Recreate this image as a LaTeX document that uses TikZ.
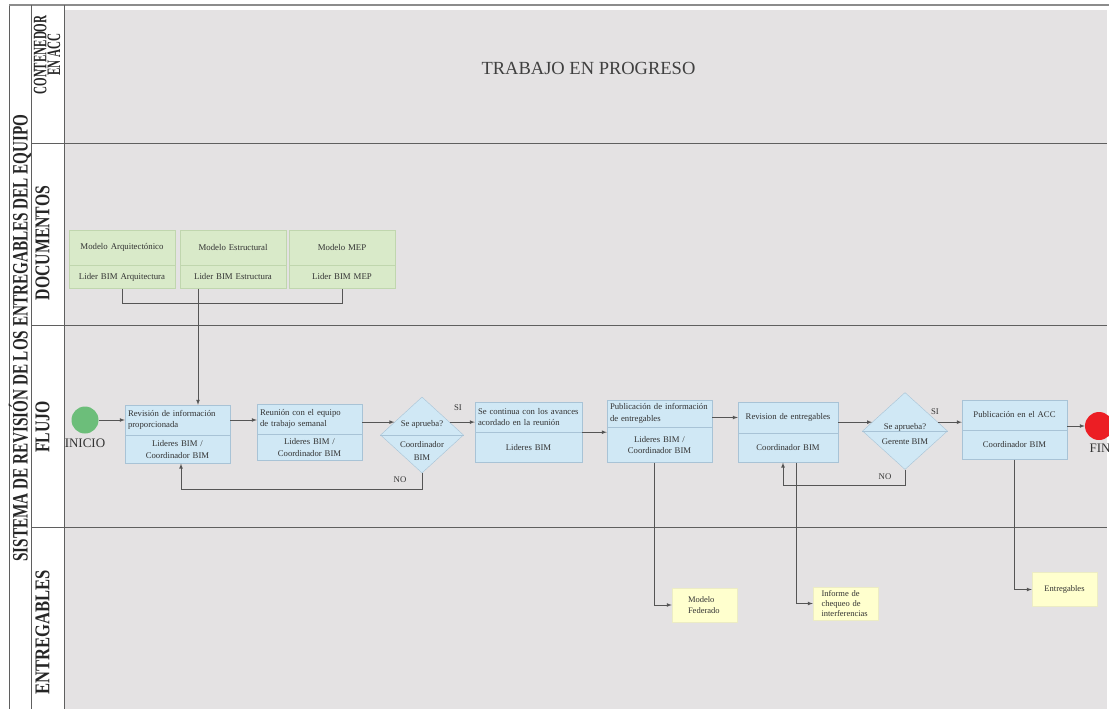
\documentclass[tikz,border=0pt]{standalone}
\usepackage{fontspec}
\setmainfont{Liberation Serif}
\usepackage{graphicx}
\usepackage{tikz}
\usepackage{xcolor}
\usetikzlibrary{shapes,arrows,positioning}

\definecolor{lanegray}{RGB}{228,226,227}
\definecolor{framegray}{RGB}{95,95,95}
\definecolor{taskblue}{RGB}{208,232,245}
\definecolor{taskedge}{RGB}{168,195,214}
\definecolor{docgreen}{RGB}{217,234,201}
\definecolor{docedge}{RGB}{192,214,174}
\definecolor{outyellow}{RGB}{255,255,206}
\definecolor{outedge}{RGB}{236,236,196}
\definecolor{startgreen}{RGB}{108,190,122}
\definecolor{endred}{RGB}{236,30,36}
\definecolor{wire}{RGB}{85,85,85}

\newcommand{\boxfont}{\fontsize{8.7}{11.5}\selectfont}

\begin{document}
\begin{tikzpicture}[x=1pt,y=-1pt]
\tikzstyle{tasktop} = [rectangle, draw=taskedge, fill=taskblue, minimum width=105pt, minimum height=30pt, text width=99pt, inner sep=3pt, align=left, font=\boxfont, text=black!80]
\tikzstyle{taskbot} = [tasktop, align=center, minimum height=28pt]
\tikzstyle{doctop} = [rectangle, draw=docedge, fill=docgreen, minimum width=106pt, minimum height=35pt, text width=100pt, inner sep=3pt, align=center, font=\fontsize{8.8}{10}\selectfont, text=black!80]
\tikzstyle{docbot} = [doctop, minimum height=23pt]
\tikzstyle{decision} = [diamond, draw=taskedge, fill=taskblue, inner sep=0pt, minimum width=83pt, minimum height=76pt]
\tikzstyle{outbox} = [rectangle, draw=outedge, fill=outyellow, minimum width=65pt, minimum height=34pt, inner sep=0pt, align=left, font=\fontsize{8.5}{10.3}\selectfont, text=black!80]
\tikzstyle{tag} = [font=\fontsize{8.7}{12.5}\selectfont, text=black!80, inner sep=1pt]
\tikzstyle{lanename} = [rotate=90, font=\bfseries\fontsize{21}{21}\selectfont, text=black!85]
\tikzstyle{link} = [draw=wire, line width=0.7pt, -latex]

\useasboundingbox (0,0) rectangle (1109,709);

% swimlane frame
\fill[lanegray] (64,10) rectangle (1107,709);
\draw[framegray, line width=0.6pt] (9,709) -- (9,5);
\draw[black!45, line width=1.2pt] (9,5) -- (1109,5);
\draw[framegray, line width=0.6pt] (31,5) -- (31,709);
\draw[framegray, line width=0.6pt] (64,5) -- (64,709);
\foreach \y in {143,325,527}
  \draw[framegray, line width=0.6pt] (31,\y) -- (1107,\y);

\node[rotate=90, font=\bfseries\fontsize{22}{22}\selectfont, text=black!85] (sistema) at (20,338)
  {\scalebox{0.69}[1]{SISTEMA DE REVISIÓN DE LOS ENTREGABLES DEL EQUIPO}};
\node[rotate=90, align=center, font=\bfseries\fontsize{19}{12}\selectfont, text=black!85] (acc) at (47,55)
  {\scalebox{0.58}[1]{CONTENEDOR}\\\scalebox{0.58}[1]{EN ACC}};
\node[lanename] (docs) at (42.5,243) {\scalebox{0.75}[1]{DOCUMENTOS}};
\node[lanename] (flujo) at (42.5,427) {\scalebox{0.75}[1]{FLUJO}};
\node[lanename] (entreg) at (42.5,632) {\scalebox{0.79}[1]{ENTREGABLES}};

\node[font=\fontsize{18.5}{18.5}\selectfont, text=black!75] (progreso) at (588.5,68) {TRABAJO EN PROGRESO};

% documentos
\node[doctop] (arqT) at (122,247.5) {Modelo Arquitectónico};
\node[docbot, below=0pt of arqT] (arqB) {Lider BIM Arquitectura};
\node[doctop] (estT) at (233,247.5) {Modelo Estructural};
\node[docbot, below=0pt of estT] (estB) {Lider BIM Estructura};
\node[doctop] (mepT) at (342,247.5) {Modelo MEP};
\node[docbot, below=0pt of mepT] (mepB) {Lider BIM MEP};

% flujo
\node[circle, fill=startgreen, minimum size=27pt, inner sep=0pt] (inicio) at (85,420) {};
\node[font=\fontsize{13}{13}\selectfont, text=black!80] (inicioL) at (85,443) {INICIO};

\node[tasktop] (revT) at (177.5,420) {Revisión de información\\proporcionada};
\node[taskbot, below=0pt of revT] (revB) {Lideres BIM /\\Coordinador BIM};

\node[tasktop] (reuT) at (309.5,419) {Reunión con el equipo\\de trabajo semanal};
\node[taskbot, below=0pt of reuT, minimum height=26pt] (reuB) {Lideres BIM /\\Coordinador BIM};

\node[decision] (ok1) at (422,435) {};
\draw[taskedge] (ok1.west) -- (ok1.east);
\node[tag] (ok1q) at (422,424) {Se aprueba?};
\node[tag, align=center] (ok1r) at (422,451) {Coordinador\\BIM};

\node[tasktop, minimum width=107pt, text width=101pt] (avaT) at (528.5,417) {Se continua con los avances\\acordado en la reunión};
\node[taskbot, below=0pt of avaT, minimum width=107pt, text width=101pt, minimum height=30pt] (avaB) {Lideres BIM};

\node[tasktop, minimum height=27pt] (pubT) at (659.5,413.5) {Publicación de información\\de entregables};
\node[taskbot, below=0pt of pubT, minimum height=35pt] (pubB) {Lideres BIM /\\Coordinador BIM};

\node[tasktop, align=center, minimum width=100pt, text width=94pt, minimum height=31pt] (entT) at (788,417.5) {Revision de entregables};
\node[taskbot, below=0pt of entT, minimum width=100pt, text width=94pt, minimum height=29pt] (entB) {Coordinador BIM};

\node[decision, minimum width=85pt, minimum height=77pt] (ok2) at (905,431) {};
\draw[taskedge] (ok2.west) -- (ok2.east);
\node[tag] (ok2q) at (905,427) {Se aprueba?};
\node[tag] (ok2r) at (905,442) {Gerente BIM};

\node[tasktop, align=center] (accT) at (1014.5,415) {Publicación en el ACC};
\node[taskbot, below=0pt of accT, minimum height=29pt] (accB) {Coordinador BIM};

\node[circle, fill=endred, minimum size=28pt, inner sep=0pt] (fin) at (1099,426) {};
\node[anchor=west, font=\fontsize{13}{13}\selectfont, text=black!80] (finL) at (1086,448) {FIN};

% entregables
\node[outbox, text width=33pt] (fed) at (704.5,605) {Modelo\\Federado};
\node[outbox, text width=48pt, minimum height=33pt] (inf) at (845.5,603.5) {Informe de\\chequeo de\\interferencias};
\node[outbox, align=center] (ent) at (1064.5,589.5) {Entregables};

% connectors
\draw[draw=wire, line width=0.7pt] (arqB.south) -- ++(0,15) -| (mepB.south);
\coordinate (tap) at ([xshift=20.5pt]revT.north);
\draw[link] (estB.south -| tap) -- (tap);

\draw[link] (inicio) -- (revT);
\draw[link] (revT.east) -- (revT.east -| reuT.west);
\draw[link] (ok1.155 -| reuT.east) -- (ok1.155);
\draw[link] (ok1.25) -- (ok1.25 -| avaT.west);
\draw[link] (avaT.south east) -- (avaT.south east -| pubB.west);
\draw[link] (entT.west -| pubT.east) -- (entT.west);
\draw[link] (ok2.165 -| entT.east) -- (ok2.165);
\draw[link] (ok2.15) -- (ok2.15 -| accT.west);
\draw[link] (fin.west -| accT.east) -- (fin.west);

\draw[link] (ok1.south) -- ++(0,16) -| ([xshift=3.5pt]revB.south);
\draw[link] (ok2.south) -- ++(0,16) -| ([xshift=-5pt]entB.south);

\node[tag] (si1) at (458,408) {SI};
\node[tag] (no1) at (400,480) {NO};
\node[tag] (si2) at (935,412) {SI};
\node[tag] (no2) at (885,477) {NO};

\draw[link] ([xshift=-5.5pt]pubB.south) |- (fed.west);
\draw[link] ([xshift=8pt]entB.south) |- (inf.west);
\draw[link] (accB.south) |- (ent.west);
\end{tikzpicture}
\end{document}
